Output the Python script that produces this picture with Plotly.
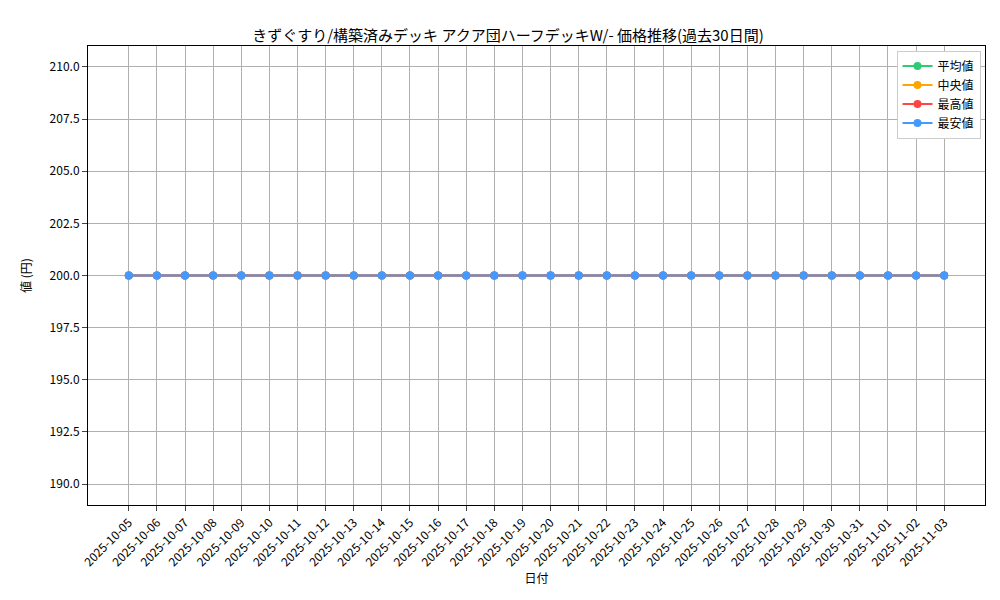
import plotly.graph_objects as go
import pandas as pd

dates = [d.strftime("%Y-%m-%d") for d in pd.date_range("2025-10-05", "2025-11-03")]
avg = [200]*30
med = [200]*30
high = [200]*30
low = [200]*30
names = ["平均値", "中央値", "最高値", "最安値"]
colors = ["#2ecc71", "#ffa500", "#ff4444", "#4499ff"]

fig = go.Figure()
for n, v, c in zip(names, [avg, med, high, low], colors):
    fig.add_trace(go.Scatter(x=dates, y=v, name=n, mode="lines+markers",
                             line=dict(color=c, width=2), marker=dict(size=8, color=c)))

font = "Noto Sans CJK JP"
fig.update_layout(
    width=1000, height=600, plot_bgcolor="white", paper_bgcolor="white",
    font=dict(family=font, size=12, color="black"),
    title=dict(text="きずぐすり/構築済みデッキ アクア団ハーフデッキW/- 価格推移(過去30日間)",
               x=0.5, xanchor="center", y=0.963, font=dict(size=15)),
    margin=dict(l=80, r=23, t=38, b=103, autoexpand=False),
    legend=dict(x=0.995, y=0.99, xanchor="right", yanchor="top", bordercolor="#cccccc",
                borderwidth=1, bgcolor="white", font=dict(size=12)),
    xaxis=dict(type="date", range=["2025-10-03 13:12", "2025-11-04 10:48"], automargin=False,
               tickvals=dates, ticktext=dates, tickangle=-45, showgrid=True,
               gridcolor="#b0b0b0", showline=True, mirror=True, linecolor="black",
               ticks="outside", title=dict(text="日付", font=dict(size=12), standoff=5)),
    yaxis=dict(range=[189, 211], automargin=False,
               tickvals=[190, 192.5, 195, 197.5, 200, 202.5, 205, 207.5, 210],
               ticktext=["190.0", "192.5", "195.0", "197.5", "200.0", "202.5", "205.0", "207.5", "210.0"],
               showgrid=True, gridcolor="#b0b0b0", showline=True, mirror=True,
               linecolor="black", ticks="outside", zeroline=False,
               title=dict(text="値 (円)", font=dict(size=12))),
)
fig.write_html("out.html")
